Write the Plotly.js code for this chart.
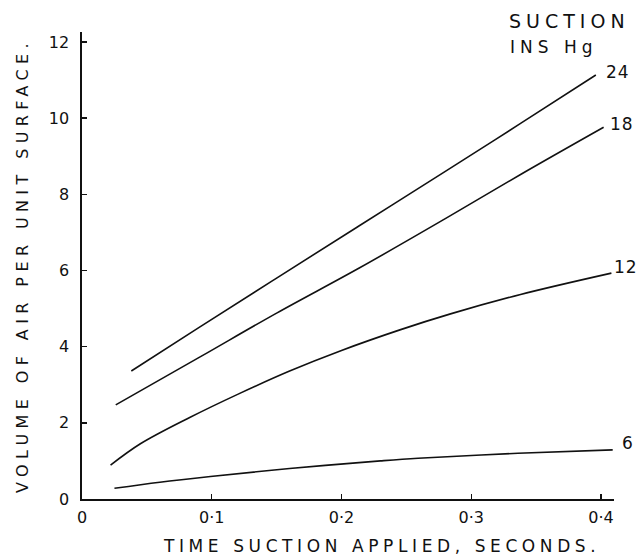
<!DOCTYPE html>
<html>
<head>
<meta charset="utf-8">
<script src="https://cdn.plot.ly/plotly-3.0.1.min.js"></script>
<style>
  html, body { margin: 0; padding: 0; background: #fff; }
  #chart { width: 638px; height: 558px; }
</style>
</head>
<body>
<div id="chart"></div>
<script>
// ---- Data ----
const suctionLevels = ['24', '18', '12', '6'];   // inches of mercury

const time24 = [0.038, 0.09, 0.15, 0.214, 0.28, 0.338, 0.396];
const vol24  = [3.36, 4.50, 5.80, 7.18, 8.60, 9.86, 11.13];

const time18 = [0.026, 0.091, 0.15, 0.214, 0.28, 0.338, 0.402];
const vol18  = [2.47, 3.73, 4.88, 6.07, 7.36, 8.52, 9.76];

const time12 = [0.022, 0.045, 0.083, 0.122, 0.16, 0.20, 0.245, 0.284, 0.338, 0.408];
const vol12  = [0.89, 1.45, 2.14, 2.78, 3.36, 3.90, 4.44, 4.86, 5.37, 5.93];

const time6 = [0.025, 0.06, 0.099, 0.16, 0.23, 0.259, 0.336, 0.409];
const vol6  = [0.28, 0.44, 0.59, 0.80, 1.00, 1.07, 1.20, 1.29];

const xTickVals  = [0, 0.1, 0.2, 0.3, 0.4];
const xTickText  = ['0', '0·1', '0·2', '0·3', '0·4'];
const yTickVals  = [0, 2, 4, 6, 8, 10, 12];
const yTickText  = ['0', '2', '4', '6', '8', '10', '12'];

const xTitle = 'TIME SUCTION APPLIED, SECONDS.';
const yTitle = 'VOLUME OF AIR PER UNIT SURFACE.';
const legendTitle1 = 'SUCTION';
const legendTitle2 = 'INS Hg';

// ---- Layout geometry ----
const W = 638, H = 558;
const M = { l: 82, r: 24, t: 32, b: 59 };
const plotW = W - M.l - M.r, plotH = H - M.t - M.b;
const pxX = p => (p - M.l) / plotW;          // page px -> paper x
const pxY = p => (H - M.b - p) / plotH;      // page px -> paper y

const FONT = 'DejaVu Sans, sans-serif';
const INK = '#111';
const spaced = (t, s) => '<span style="letter-spacing:' + s + 'px">' + t + '</span>';

const series = [
  { x: time24, y: vol24, name: suctionLevels[0] },
  { x: time18, y: vol18, name: suctionLevels[1] },
  { x: time12, y: vol12, name: suctionLevels[2] },
  { x: time6,  y: vol6,  name: suctionLevels[3] }
];

const traces = series.map(s => ({
  type: 'scatter', mode: 'lines', x: s.x, y: s.y, name: s.name,
  line: { color: INK, width: 1.6, shape: 'spline', smoothing: 1 },
  hoverinfo: 'x+y+name'
}));

// label offsets (px) relative to each curve's end point
const labelShift = [[8, 3], [4, 3], [1, 6], [7, 7]];
const curveLabels = series.map((s, i) => ({
  x: s.x[s.x.length - 1], y: s.y[s.y.length - 1], xref: 'x', yref: 'y',
  text: spaced(s.name, 1), showarrow: false, xanchor: 'left', yanchor: 'middle',
  xshift: labelShift[i][0], yshift: labelShift[i][1],
  font: { family: FONT, size: 17, color: INK }
}));

const annotations = curveLabels.concat([
  { x: pxX(507), y: pxY(21), xref: 'paper', yref: 'paper', xanchor: 'left', yanchor: 'middle',
    text: spaced(legendTitle1, 5), showarrow: false, font: { family: FONT, size: 19, color: INK } },
  { x: pxX(508), y: pxY(47), xref: 'paper', yref: 'paper', xanchor: 'left', yanchor: 'middle',
    text: spaced(legendTitle2, 5), showarrow: false, font: { family: FONT, size: 17, color: INK } },
  { x: pxX(381), y: pxY(546), xref: 'paper', yref: 'paper', xanchor: 'center', yanchor: 'middle',
    text: spaced(xTitle, 4.6), showarrow: false, font: { family: FONT, size: 17, color: INK } }
]);

const axisCommon = {
  showgrid: false, zeroline: false, showline: true, linecolor: INK, linewidth: 1.6,
  ticks: 'inside', ticklen: 5, tickwidth: 1.4, tickcolor: INK,
  tickfont: { family: FONT, size: 16, color: INK },
  tickmode: 'array', fixedrange: true
};

const layout = {
  width: W, height: H,
  margin: M,
  paper_bgcolor: '#fff', plot_bgcolor: '#fff',
  showlegend: false,
  xaxis: Object.assign({}, axisCommon, {
    range: [0, 0.41], tickvals: xTickVals, ticktext: xTickText,
    ticklabelstandoff: 3
  }),
  yaxis: Object.assign({}, axisCommon, {
    range: [0, 12.26], tickvals: yTickVals, ticktext: yTickText,
    ticklabelstandoff: 8,
    title: { text: spaced(yTitle, 5.4), standoff: 16, font: { family: FONT, size: 16, color: INK } }
  }),
  annotations: annotations
};

Plotly.newPlot('chart', traces, layout, { displayModeBar: false, staticPlot: true });
</script>
</body>
</html>
